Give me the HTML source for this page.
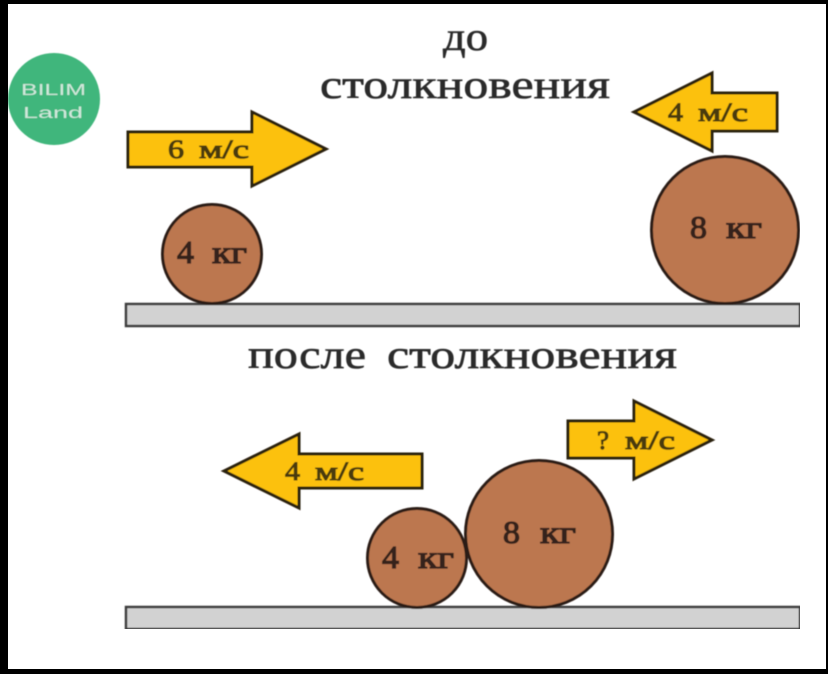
<!DOCTYPE html>
<html>
<head>
<meta charset="utf-8">
<style>
html,body{margin:0;padding:0;background:#000;width:828px;height:674px;overflow:hidden}
svg{display:block}
text{font-family:"Liberation Serif","DejaVu Serif",serif;font-weight:400}
.h{font-size:40px;fill:#2a2a2a;stroke:#2a2a2a;stroke-width:.6px}
.a{font-size:26px;fill:#4a3b10;stroke:#4a3b10;stroke-width:1px}
.b{font-size:32px;fill:#35221a;stroke:#35221a;stroke-width:1.2px}
.logo{font-family:"Liberation Sans",sans-serif;font-size:16px;fill:#d0e8dc}
</style>
</head>
<body>
<svg width="828" height="674" viewBox="0 0 828 674" xmlns="http://www.w3.org/2000/svg">
<rect x="0" y="0" width="828" height="674" fill="#000"/>
<rect x="8" y="4" width="818" height="665" fill="#fff"/>
<g filter="url(#soft)">
<filter id="soft" x="0" y="0" width="100%" height="100%"><feGaussianBlur stdDeviation="0.6"/></filter>

<circle cx="54" cy="99" r="46" fill="#3fb67b"/>
<text class="logo" x="21" y="95" textLength="65" lengthAdjust="spacingAndGlyphs">BILIM</text>
<text class="logo" x="23" y="118" textLength="60" lengthAdjust="spacingAndGlyphs">Land</text>

<text class="h" x="443" y="50" textLength="45" lengthAdjust="spacingAndGlyphs">до</text>
<text class="h" x="320" y="98" textLength="290" lengthAdjust="spacingAndGlyphs">столкновения</text>
<text class="h" x="248" y="368" textLength="118" lengthAdjust="spacingAndGlyphs">после</text>
<text class="h" x="387" y="368" textLength="290" lengthAdjust="spacingAndGlyphs">столкновения</text>

<g fill="#fcc10f" stroke="#2b2110" stroke-width="3" stroke-linejoin="miter">
<polygon points="128,132 252,132 252,112 326,149 252,186 252,167 128,167"/>
<polygon points="777,93 712,93 712,73 634,112 712,151 712,131 777,131"/>
<polygon points="422,454 299,454 299,434 224,471 299,508 299,488 422,488"/>
<polygon points="568,421 634,421 634,401 712,440 634,479 634,458 568,458"/>
</g>
<text class="a" x="168" y="158" textLength="16" lengthAdjust="spacingAndGlyphs">6</text>
<text class="a" x="199" y="158" textLength="50" lengthAdjust="spacingAndGlyphs">м/с</text>
<text class="a" x="668" y="121" textLength="15" lengthAdjust="spacingAndGlyphs">4</text>
<text class="a" x="698" y="121" textLength="50" lengthAdjust="spacingAndGlyphs">м/с</text>
<text class="a" x="285" y="480" textLength="15" lengthAdjust="spacingAndGlyphs">4</text>
<text class="a" x="315" y="480" textLength="49" lengthAdjust="spacingAndGlyphs">м/с</text>
<text class="a" x="597" y="449" textLength="12" lengthAdjust="spacingAndGlyphs">?</text>
<text class="a" x="625" y="449" textLength="50" lengthAdjust="spacingAndGlyphs">м/с</text>

<g fill="#d2d2d2" stroke="#3c3c3c" stroke-width="2.5">
<rect x="126" y="304" width="674" height="22"/>
<rect x="126" y="607" width="674" height="22"/>
</g>

<g fill="#bc7750" stroke="#2c1c14" stroke-width="3">
<circle cx="212" cy="254" r="49.5"/>
<circle cx="725" cy="230" r="73.5"/>
<circle cx="417" cy="558" r="49.5"/>
<circle cx="539" cy="534" r="73.5"/>
</g>
<text class="b" x="177" y="263" textLength="17" lengthAdjust="spacingAndGlyphs">4</text>
<text class="b" x="212" y="263" textLength="35" lengthAdjust="spacingAndGlyphs">кг</text>
<text class="b" x="690" y="238" textLength="17" lengthAdjust="spacingAndGlyphs">8</text>
<text class="b" x="726" y="238" textLength="36" lengthAdjust="spacingAndGlyphs">кг</text>
<text class="b" x="382" y="568" textLength="17" lengthAdjust="spacingAndGlyphs">4</text>
<text class="b" x="418" y="568" textLength="36" lengthAdjust="spacingAndGlyphs">кг</text>
<text class="b" x="503" y="543" textLength="17" lengthAdjust="spacingAndGlyphs">8</text>
<text class="b" x="540" y="543" textLength="36" lengthAdjust="spacingAndGlyphs">кг</text>
</g>
</svg>
</body>
</html>
